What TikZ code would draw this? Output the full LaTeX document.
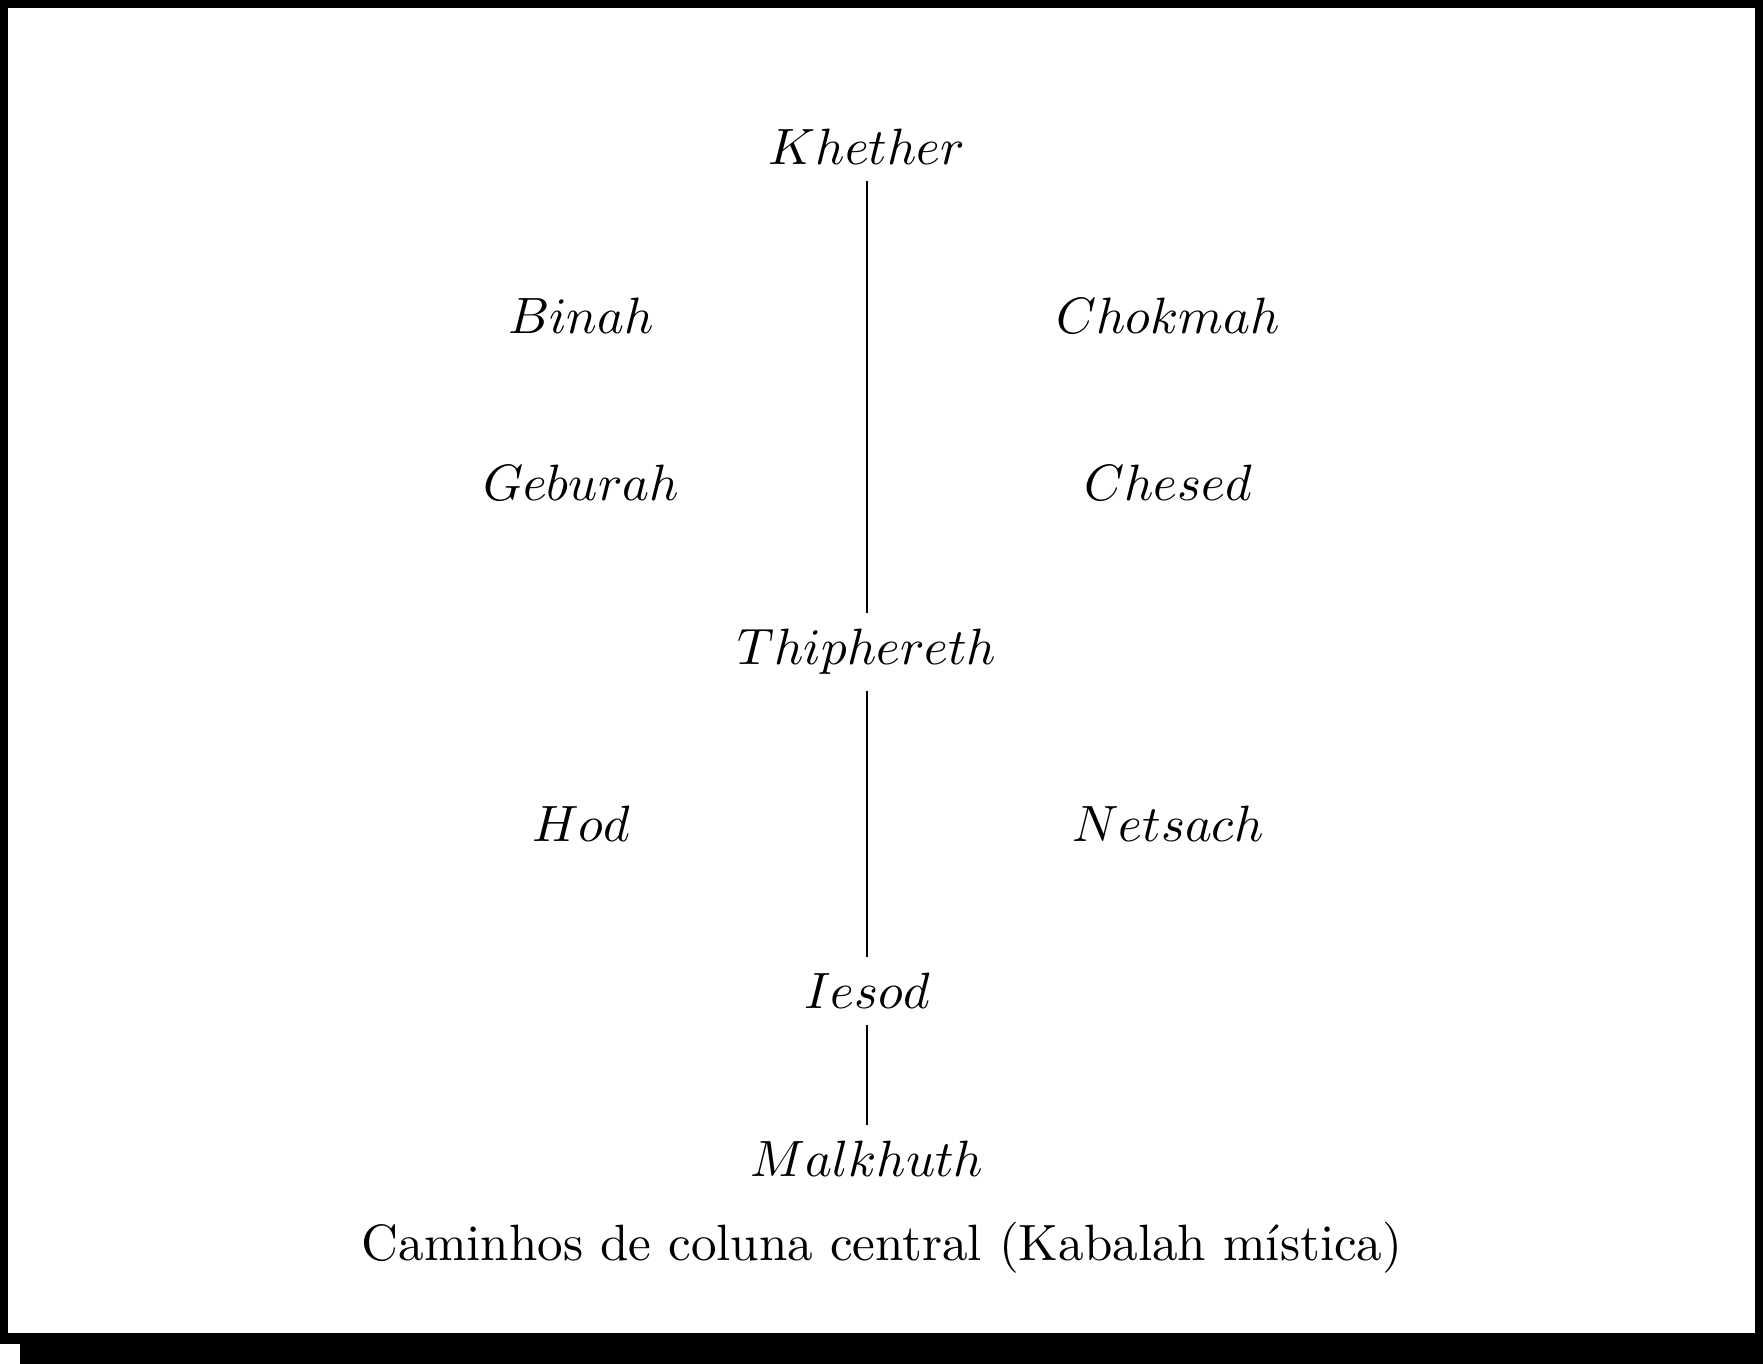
\documentclass[tikz,border=0pt]{standalone}
\begin{document}
\begin{tikzpicture}[x=0.1958pt,y=-0.1958pt,
  sefira/.style={inner sep=0.3em},
  path/.style={line width=0.4pt}]
% page frame with drop shadow
\fill[black] (0,0) rectangle (1763,1364);
\fill[white] (8,8) rectangle (1755,1333);
\fill[white] (0,1344) rectangle (20,1364);
\useasboundingbox (0,0) rectangle (1763,1364);
% sefirot
\node[sefira] (khether) at (867,147) {$Khether$};
\node[sefira] (binah) at (581,316) {$Binah$};
\node[sefira] (chokmah) at (1168,316) {$Chokmah$};
\node[sefira] (geburah) at (581,483) {$Geburah$};
\node[sefira] (chesed) at (1168,483) {$Chesed$};
\node[sefira] (thiphereth) at (867,652) {$Thiphereth$};
\node[sefira] (hod) at (581,824) {$Hod$};
\node[sefira] (netsach) at (1168,824) {$Netsach$};
\node[sefira] (iesod) at (867,991) {$Iesod$};
\node[sefira] (malkhuth) at (867,1159) {$Malkhuth$};
% central column paths
\draw[path] (khether) -- (thiphereth);
\draw[path] (thiphereth) -- (iesod);
\draw[path] (iesod) -- (malkhuth);
% caption
\node (caption) at (882,1248) {Caminhos de coluna central (Kabalah mística)};
\end{tikzpicture}
\end{document}
